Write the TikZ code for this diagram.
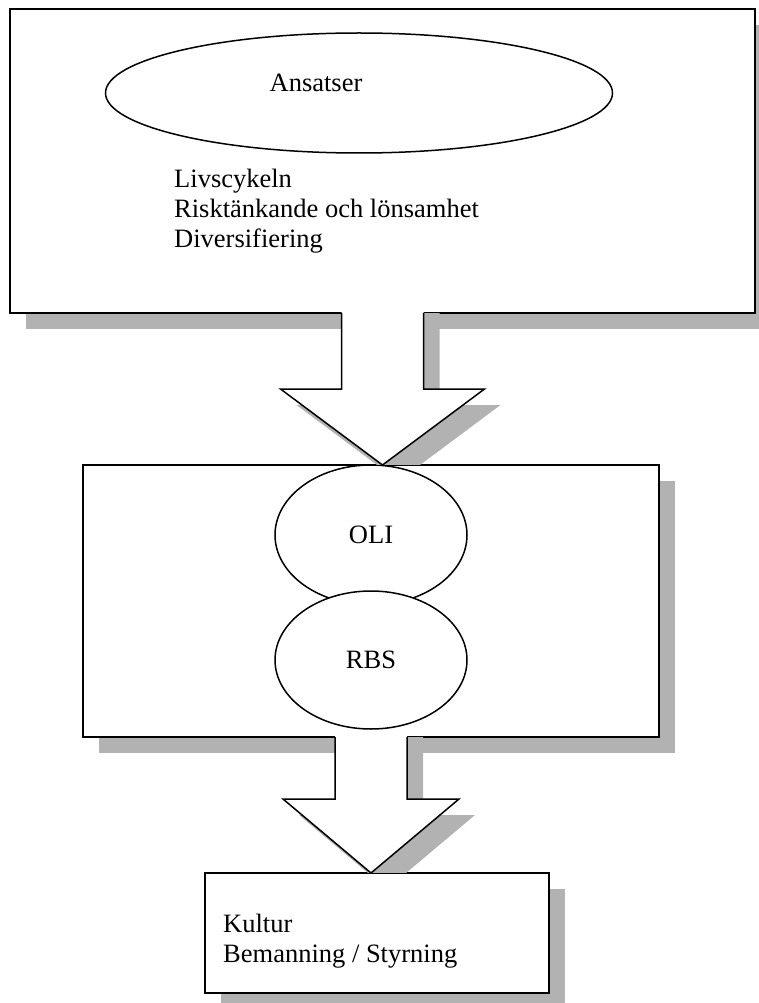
\documentclass[tikz,border=0pt]{standalone}
\usepackage{fontspec}
\setmainfont{Liberation Serif}
\usetikzlibrary{positioning,shapes.geometric,calc,shadows}

% block arrow: from, tip, half body, half head, body length
\newcommand{\blockarrow}[5]{%
  \begin{scope}
    \clip ($(#2)+(-300,-300)$) rectangle ($(#2)+(300,-1)$);
    \fill[shadowfill] ($(#1)+(16-#3,0)$) -- ($(#1)+(16-#3,16+#5)$) -- ($(#1)+(16-#4,16+#5)$)
      -- ($(#2)+(16,16)$) -- ($(#1)+(16+#4,16+#5)$) -- ($(#1)+(16+#3,16+#5)$)
      -- ($(#1)+(16+#3,0)$) -- cycle;
  \end{scope}
  \fill[white] ($(#1)+(-#3,-1)$) -- ($(#1)+(-#3,#5)$) -- ($(#1)+(-#4,#5)$) -- (#2)
    -- ($(#1)+(#4,#5)$) -- ($(#1)+(#3,#5)$) -- ($(#1)+(#3,-1)$) -- cycle;
  \draw[outline] ($(#1)+(-#3,0)$) -- ($(#1)+(-#3,#5)$) -- ($(#1)+(-#4,#5)$) -- (#2)
    -- ($(#1)+(#4,#5)$) -- ($(#1)+(#3,#5)$) -- ($(#1)+(#3,0)$);
}

\begin{document}
\begin{tikzpicture}[x=1pt, y=-1pt,
  every node/.style={font=\fontsize{26.5}{30}\selectfont},
  frame/.style={rectangle, draw, line width=1.5pt, fill=white, outer sep=0pt, inner sep=0pt,
    drop shadow={shadow xshift=16pt, shadow yshift=-16pt, fill=black!30, opacity=1}},
  bubble/.style={ellipse, draw, line width=1.5pt, fill=white, outer sep=0pt, inner sep=0pt},
  txt/.style={align=left, inner sep=0pt},
  shadowfill/.style={fill=black!30},
  outline/.style={line width=1.5pt, line join=miter}
]
  \useasboundingbox (0,0) rectangle (759,1003);

  % approaches
  \node[frame, minimum width=745pt, minimum height=304pt] (top) at (382.5,161) {};
  \node[bubble, minimum width=507pt, minimum height=120pt, below=24pt of top.north, xshift=-23.5pt] (ans) {};
  \node[inner sep=0pt] (anstext) at ([xshift=-43pt, yshift=10pt]ans.center) {Ansatser};
  \node[txt, anchor=base west] (lst) at (174,247) {Livscykeln\\Risktänkande och lönsamhet\\Diversifiering};

  % theories
  \node[frame, minimum width=576pt, minimum height=272pt, below=152pt of top, xshift=-11.5pt] (mid) {};
  \node[bubble, minimum width=192pt, minimum height=140pt, anchor=north] (oli) at (mid.north) {OLI};
  \node[bubble, minimum width=192pt, minimum height=138pt, below=-14pt of oli] (rbs) {RBS};

  % outcome
  \node[frame, minimum width=344pt, minimum height=120pt, below=136pt of mid, xshift=6pt] (bot) {};
  \node[txt, anchor=base west] (res) at (223,962) {Kultur\\Bemanning / Styrning};

  \coordinate (t1) at (top.south |- mid.north);
  \coordinate (t2) at (mid.south |- bot.north);
  \blockarrow{top.south}{t1}{41}{102}{76}
  \blockarrow{mid.south}{t2}{36}{88}{62}
\end{tikzpicture}
\end{document}
